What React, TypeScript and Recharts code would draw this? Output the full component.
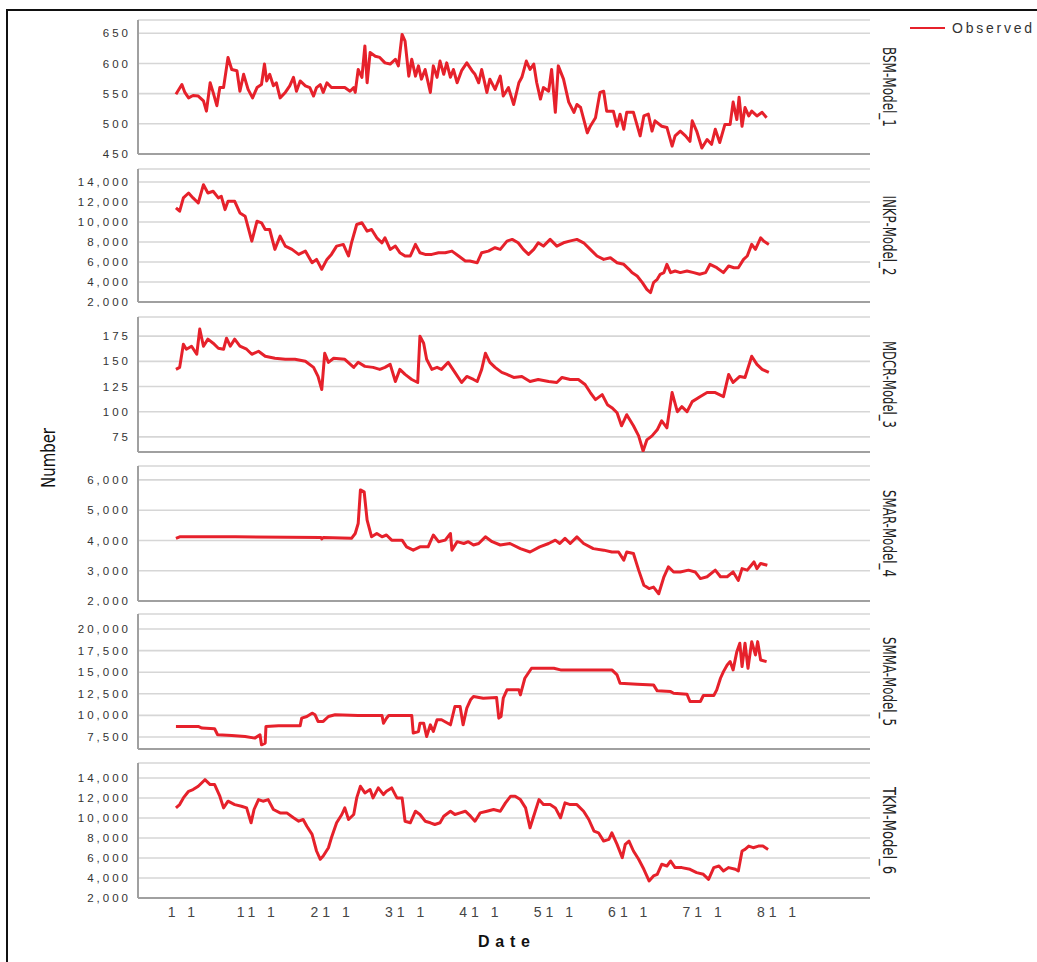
import React from 'react';
import { LineChart, Line, XAxis, YAxis, CartesianGrid, ReferenceLine } from 'recharts';

// x positions (weeks) and observed values per series
const bsmT = [0.0,0.8,1.2,1.7,2.3,3.0,3.7,4.1,4.6,5.0,5.5,5.9,6.4,7.0,7.5,8.2,8.6,9.1,9.7,10.3,10.9,11.5,11.9,12.2,12.6,13.1,13.5,14.0,14.7,15.3,15.8,16.2,16.7,17.4,18.0,18.5,18.9,19.4,19.8,20.3,20.9,21.8,22.7,23.4,23.9,24.1,24.5,25.0,25.4,25.7,26.1,26.8,27.4,28.1,28.8,29.5,29.9,30.4,30.8,31.3,31.7,32.2,32.6,33.0,33.5,34.2,34.6,35.1,35.5,36.0,36.4,36.9,37.3,37.8,38.4,39.1,39.8,40.2,40.7,41.1,41.8,42.2,42.9,43.6,44.0,44.7,45.4,46.1,46.5,47.1,47.6,48.1,48.5,49.0,49.4,50.1,50.5,51.0,51.4,52.1,52.8,53.5,53.9,54.4,55.3,55.7,56.4,57.0,57.5,57.9,58.8,59.3,59.7,60.2,60.6,61.5,62.4,62.9,63.5,64.0,64.4,65.3,66.0,66.7,67.1,67.8,68.5,69.1,69.4,70.0,70.7,71.4,72.0,72.5,73.1,73.8,74.5,74.9,75.4,75.7,76.1,76.5,77.0,77.4,78.1,78.8,79.4];
const bsmV = [549,565,552,543,547,546,538,521,568,552,530,560,560,610,590,588,554,582,557,543,560,565,599,571,582,563,568,543,552,563,577,554,571,563,560,546,560,565,552,568,560,560,560,554,560,552,590,577,629,568,618,612,610,601,599,607,596,648,637,579,607,579,596,574,590,552,596,577,604,582,601,577,590,568,588,601,588,582,568,590,552,574,557,579,546,560,532,568,577,604,590,599,568,541,560,554,590,519,596,574,536,519,532,527,485,496,510,552,554,521,521,496,516,491,519,519,480,513,516,488,505,496,494,463,480,488,480,471,505,488,460,474,466,491,469,499,499,536,507,544,496,527,513,521,513,519,510];

const inkpT = [0.0,0.5,1.0,1.7,2.3,3.0,3.7,4.3,5.0,5.7,6.1,6.6,7.0,7.9,8.6,9.3,10.2,10.9,11.5,12.0,12.6,13.3,14.0,14.7,15.6,16.5,17.4,18.3,18.9,19.6,20.3,20.9,21.6,22.5,23.2,23.6,24.3,25.0,25.7,26.3,27.0,27.7,28.1,28.8,29.5,30.1,30.8,31.5,32.2,32.8,33.5,34.4,35.3,36.2,37.1,38.0,38.9,39.5,40.5,41.1,42.0,42.9,43.6,44.5,45.2,46.0,46.7,47.4,48.1,48.7,49.4,50.3,51.2,52.1,52.9,53.9,54.8,55.7,56.6,57.5,58.4,59.3,60.2,60.9,61.3,62.0,62.7,63.3,63.8,64.2,64.7,65.1,65.6,66.0,66.5,67.1,67.8,68.7,69.6,70.4,71.2,71.8,72.7,73.6,74.3,75.0,75.6,76.3,76.8,77.4,77.9,78.6,79.0,79.7];
const inkpV = [11410,11080,12410,12900,12410,11900,13730,12900,13070,12410,12570,11240,12070,12070,10910,10580,8090,10080,9920,9250,9250,7260,8590,7590,7260,6760,7090,5930,6260,5270,6260,6760,7590,7760,6600,7920,9750,9920,9090,9250,8420,7920,8420,7260,7590,6930,6600,6600,7760,6930,6760,6760,6930,6930,7090,6600,6100,6100,5930,6930,7090,7430,7260,8090,8260,7920,7260,6760,7260,7920,7590,8260,7590,7920,8090,8260,7920,7260,6600,6260,6430,5930,5770,5270,4940,4600,3940,3270,2940,3940,4270,4770,4940,5770,4940,5100,4940,5100,4940,4770,4940,5770,5430,4940,5600,5430,5430,6260,6600,7760,7260,8420,8090,7760];

const mdcrT = [0.0,0.5,1.0,1.4,2.1,2.8,3.2,3.7,4.3,5.0,5.7,6.4,6.8,7.3,7.9,8.6,9.5,10.2,11.1,12.0,13.3,14.7,16.0,17.4,18.5,19.1,19.6,20.0,20.5,21.2,22.7,23.9,24.5,25.4,26.5,27.4,28.1,28.8,29.5,30.1,30.8,31.7,32.5,32.8,33.3,33.7,34.4,35.1,35.7,36.6,37.5,38.4,39.1,40.0,40.5,41.1,41.6,42.2,42.9,43.8,44.5,45.4,46.5,47.6,48.7,50.1,51.2,51.9,53.0,54.1,55.0,55.7,56.4,57.3,58.0,58.6,59.3,59.9,60.6,61.5,62.2,62.8,63.3,64.0,64.7,65.3,66.0,66.7,67.4,68.0,68.7,69.4,70.5,71.4,72.5,73.6,74.3,74.9,75.8,76.5,77.4,78.1,78.8,79.7];
const mdcrV = [142,144,167,162,165,157,182,165,172,168,163,162,173,165,172,165,162,157,160,155,153,152,152,150,144,135,122,158,149,153,152,144,149,145,144,142,144,147,130,142,137,132,129,175,168,152,142,144,142,149,139,129,135,132,130,142,158,149,144,139,137,134,135,130,132,130,129,134,132,132,127,119,112,117,107,104,99,86,97,86,76,61,72,76,82,91,84,119,100,105,100,110,115,119,119,115,137,129,135,134,155,147,142,139];

const smarT = [0.0,0.5,8.0,19.5,19.6,19.8,23.6,24.1,24.5,24.8,25.3,25.7,26.3,27.0,27.7,28.3,29.0,30.4,31.0,31.9,32.8,33.9,34.6,35.3,36.2,36.9,37.1,37.8,38.7,39.3,40.0,40.7,41.6,42.5,43.6,44.9,46.3,47.6,48.9,50.1,51.0,51.6,52.3,53.0,53.9,54.8,56.1,57.5,58.6,59.5,60.2,60.6,61.5,62.2,62.9,63.6,64.2,64.9,65.6,66.2,66.9,67.8,68.9,69.8,70.5,71.4,72.5,73.2,74.1,74.9,75.6,76.1,76.8,77.7,78.1,78.6,79.5];
const smarV = [4070,4120,4120,4100,4050,4100,4070,4230,4560,5670,5610,4670,4120,4230,4120,4180,4010,4010,3790,3680,3790,3790,4180,3960,4010,4230,3680,3960,3900,3960,3850,3900,4120,3960,3850,3900,3730,3620,3790,3900,4010,3900,4070,3900,4120,3900,3730,3680,3620,3620,3350,3620,3570,3020,2520,2410,2460,2240,2800,3130,2960,2960,3020,2960,2740,2800,3020,2800,2800,2960,2680,3070,3020,3290,3070,3240,3180];

const smmaT = [0.0,3.0,3.5,5.2,5.6,7.5,9.3,10.6,11.3,11.5,12.0,12.1,13.8,16.7,16.9,17.6,18.3,18.7,19.1,19.8,20.5,21.4,24.5,27.7,27.9,28.3,28.6,31.7,31.9,32.6,32.8,33.3,33.7,34.2,34.6,35.1,35.7,36.9,37.5,38.2,38.6,39.1,39.6,40.0,41.3,43.1,43.4,43.7,44.0,44.5,46.1,46.3,46.9,47.8,50.8,51.7,58.6,59.3,59.7,62.0,64.2,64.7,66.5,66.9,68.7,69.1,70.5,70.9,72.3,72.7,73.2,73.6,74.1,74.5,74.9,75.4,75.8,76.1,76.5,76.9,77.4,77.9,78.2,78.6,79.4];
const smmaV = [8720,8720,8530,8450,7760,7680,7560,7370,7760,6600,6800,8720,8800,8800,9680,9870,10260,10070,9300,9300,9870,10070,9990,9990,9100,9680,9990,9990,7950,8140,9100,9100,7560,8910,8140,9490,9490,8910,11030,11030,8910,10840,11800,12180,11990,12070,9680,9870,11990,12960,12960,12380,14300,15460,15460,15270,15270,14690,13720,13610,13530,12840,12760,12570,12450,11610,11610,12300,12300,12960,14300,15070,15840,16230,15270,17380,18350,15650,18350,15460,18540,17000,18540,16420,16230];

const tkmT = [0.0,0.5,1.0,1.7,2.3,3.0,3.9,4.6,5.2,5.9,6.4,7.0,7.9,8.8,9.5,10.1,10.5,11.1,11.7,12.4,13.1,14.0,14.9,15.8,16.5,17.1,17.6,18.3,18.9,19.4,19.8,20.5,20.9,21.6,22.3,22.7,23.2,23.9,24.3,24.8,25.4,26.1,26.5,27.2,27.9,28.3,29.0,29.7,30.4,30.8,31.5,32.2,32.8,33.5,34.2,34.8,35.5,36.0,36.9,37.5,38.2,38.9,39.6,40.2,40.9,41.8,42.7,43.6,44.3,45.0,45.6,46.3,47.0,47.6,48.3,48.8,49.4,50.3,51.0,51.7,52.3,53.0,53.9,54.8,55.5,56.2,56.8,57.5,58.2,58.6,59.3,60.0,60.4,60.9,61.5,62.2,62.9,63.6,64.2,64.7,65.3,66.0,66.5,67.1,68.0,69.1,70.0,70.9,71.6,72.3,73.0,73.6,74.3,75.2,75.6,76.1,76.5,77.0,77.6,78.3,78.9,79.6];
const tkmV = [11010,11340,12010,12670,12840,13170,13830,13340,13340,12180,11010,11680,11340,11180,11010,9520,10850,11840,11680,11840,10850,10510,10510,10020,9680,9850,9180,8360,6700,5870,6200,7030,8020,9520,10350,11010,9850,10350,12010,13170,12510,12840,12010,13010,12340,12670,13010,12010,12010,9680,9520,10680,10350,9680,9520,9350,9520,10180,10680,10350,10510,10680,10180,9680,10510,10680,10850,10680,11510,12180,12180,11840,11010,9020,10680,11840,11340,11340,11010,10020,11510,11340,11340,10680,9850,8690,8520,7690,7860,8520,7360,6030,7360,7690,6700,5870,4870,3710,4210,4370,5370,5200,5700,5040,5040,4870,4540,4370,3870,5040,5200,4700,5040,4870,4700,6700,6860,7190,7030,7190,7190,6860];

const panelNames = ['BSM-Model_1', 'INKP-Model_2', 'MDCR-Model_3', 'SMAR-Model_4', 'SMMA-Model_5', 'TKM-Model_6'];
const xTicks = [1, 11, 21, 31, 41, 51, 61, 71, 81];
const yTicks1 = [450, 500, 550, 600, 650];
const yTicks2 = [2000, 4000, 6000, 8000, 10000, 12000, 14000];
const yTicks3 = [75, 100, 125, 150, 175];
const yTicks4 = [2000, 3000, 4000, 5000, 6000];
const yTicks5 = [7500, 10000, 12500, 15000, 17500, 20000];
const yTicks6 = [2000, 4000, 6000, 8000, 10000, 12000, 14000];
const legendLabel = 'Observed';

const RED = '#e6212b';
const AXIS = '#a0a0a0';
const GRID = '#d6d6d6';
const X_DOMAIN: [number, number] = [-5.1, 93.3];

const build = (ts: number[], vs: number[]) => ts.map((t, i) => ({ t, v: vs[i] }));

const panels = [
  { name: panelNames[0], data: build(bsmT, bsmV), domain: [450, 672], ticks: yTicks1, top: 20, bottom: 154, labelLen: 80 },
  { name: panelNames[1], data: build(inkpT, inkpV), domain: [2000, 15300], ticks: yTicks2, top: 169, bottom: 302, labelLen: 80 },
  { name: panelNames[2], data: build(mdcrT, mdcrV), domain: [60, 194], ticks: yTicks3, top: 317, bottom: 452, labelLen: 87 },
  { name: panelNames[3], data: build(smarT, smarV), domain: [2000, 6460], ticks: yTicks4, top: 466, bottom: 601, labelLen: 87 },
  { name: panelNames[4], data: build(smmaT, smmaV), domain: [6110, 21740], ticks: yTicks5, top: 614, bottom: 749, labelLen: 89 },
  { name: panelNames[5], data: build(tkmT, tkmV), domain: [2000, 15500], ticks: yTicks6, top: 763, bottom: 898, labelLen: 87 },
];

const CHART_W = 900;
const PLOT_LEFT = 138;
const PLOT_RIGHT = 870;
const YAXIS_W = 80;
const M = 5;
const XAXIS_H = 45;

const fmt = (v: number) => v.toLocaleString('en-US');

export default function App() {
  return (
    <div style={{ position: 'absolute', left: 0, top: 0, width: 1037, height: 962, overflow: 'hidden', background: '#fff', fontFamily: '"Liberation Sans", Arial, sans-serif' }}>
      {panels.map((p, idx) => {
        const last = idx === panels.length - 1;
        const h = p.bottom - p.top;
        const chartH = M + h + (last ? XAXIS_H : M);
        return (
          <div key={p.name} style={{ position: 'absolute', left: 0, top: p.top - M }}>
            <LineChart
              width={CHART_W}
              height={chartH}
              data={p.data}
              margin={{ top: M, bottom: last ? 0 : M, left: PLOT_LEFT - YAXIS_W, right: CHART_W - PLOT_RIGHT }}
            >
              <CartesianGrid vertical={false} stroke={GRID} strokeWidth={1.6} />
              {last ? (
                <XAxis
                  type="number"
                  dataKey="t"
                  domain={X_DOMAIN}
                  allowDataOverflow
                  ticks={xTicks}
                  tickFormatter={(v: number) => `${v} 1`}
                  height={XAXIS_H}
                  axisLine={{ stroke: AXIS, strokeWidth: 2 }}
                  tickLine={false}
                  tickMargin={3}
                  tick={{ fontSize: 14, fill: '#444', letterSpacing: 4 }}
                />
              ) : (
                <XAxis type="number" dataKey="t" domain={X_DOMAIN} allowDataOverflow hide />
              )}
              <YAxis
                type="number"
                domain={p.domain}
                allowDataOverflow
                ticks={p.ticks}
                interval={0}
                width={YAXIS_W}
                axisLine={{ stroke: AXIS, strokeWidth: 2 }}
                tickLine={false}
                tickMargin={1}
                tickFormatter={fmt}
                tick={{ fontSize: 11.5, fill: '#333', letterSpacing: 3 }}
              />
              {!last && <ReferenceLine y={p.domain[0]} stroke={AXIS} strokeWidth={2} />}
              <Line
                type="linear"
                dataKey="v"
                stroke={RED}
                strokeWidth={3}
                strokeLinejoin="round"
                dot={false}
                isAnimationActive={false}
              />
            </LineChart>
          </div>
        );
      })}
      <svg width={1037} height={962} style={{ position: 'absolute', left: 0, top: 0, pointerEvents: 'none' }}>
        <rect x={7} y={10} width={1200} height={1200} fill="none" stroke="#111" strokeWidth={2} />
        <line x1={910} y1={28} x2={945} y2={28} stroke={RED} strokeWidth={2} />
        <text x={952} y={33} fontSize={14} fill="#333" textLength={80} lengthAdjust="spacing">{legendLabel}</text>
        {panels.map((p) => (
          <text
            key={p.name}
            transform={`translate(883, ${(p.top + p.bottom) / 2}) rotate(90)`}
            textAnchor="middle"
            fontSize={18}
            fill="#222"
            fontFamily='"Liberation Sans Narrow", "DejaVu Sans Condensed", sans-serif'
            textLength={p.labelLen}
            lengthAdjust="spacingAndGlyphs"
          >
            {p.name}
          </text>
        ))}
        <text
          transform="translate(55, 458) rotate(-90)"
          textAnchor="middle"
          fontSize={19}
          fill="#111"
          fontFamily='"Liberation Sans Narrow", "DejaVu Sans Condensed", sans-serif'
          textLength={60}
          lengthAdjust="spacingAndGlyphs"
        >
          Number
        </text>
        <text x={478} y={947} fontSize={16} fontWeight="bold" fill="#111" textLength={52} lengthAdjust="spacing">Date</text>
      </svg>
    </div>
  );
}
